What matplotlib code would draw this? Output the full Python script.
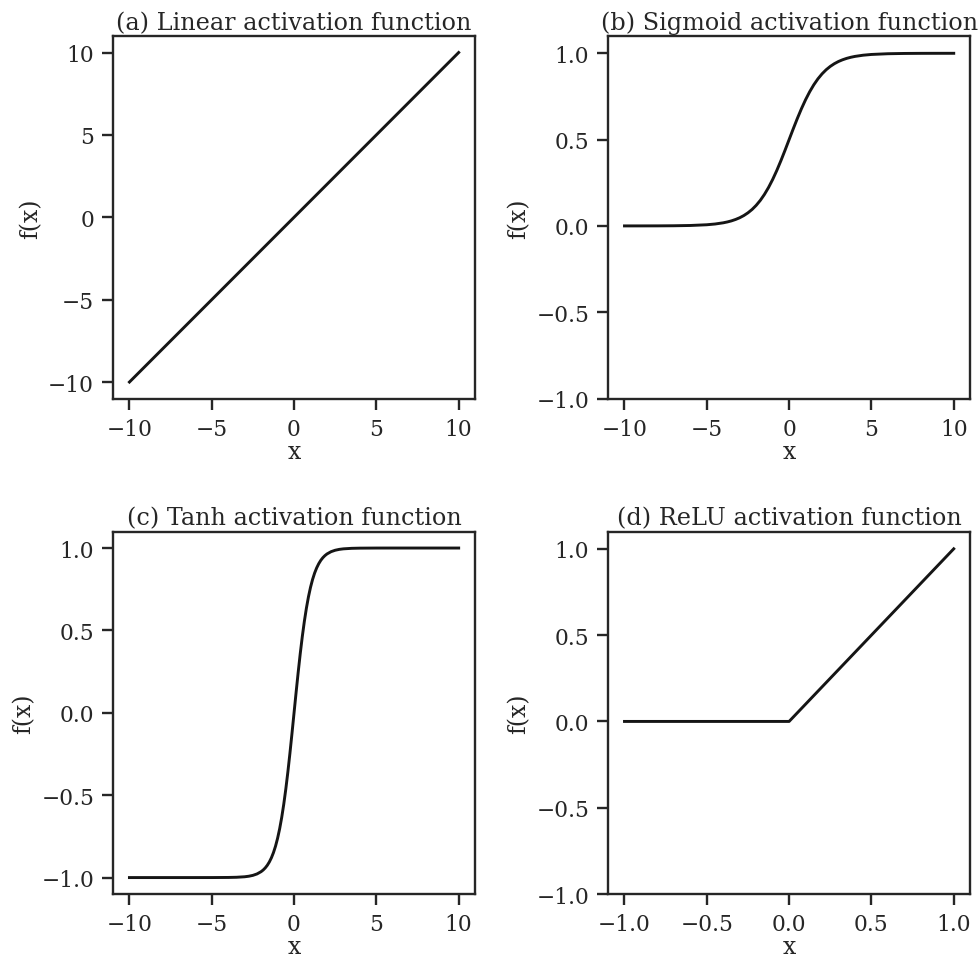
import numpy as np
from matplotlib import pyplot as plt

# values
linear_x = [-10, 10]
linear_y = [-10, 10]

sigmoid_x = [-10, -9, -8, -7, -6, -5, -4.5,
             -4, -3.75, -3.5, -3.25, -3, -2.75, -2.5, -2.25, -2, -1.75, -1.5, -1.25, -1, -0.75, -0.5, -0.25,
             0, 0.25, 0.5, 0.75, 1, 1.25, 1.5, 1.75, 2, 2.25, 2.5, 2.75, 3, 3.25, 3.5, 3.75, 4,
             4.5, 5, 6, 7, 8, 9, 10]
sigmoid_y = [0.0000, 0.0001, 0.0003, 0.0009, 0.0025, 0.0067, 0.0110,
             0.0180, 0.0230, 0.0293, 0.0374, 0.0474, 0.0601, 0.0759, 0.0953, 0.1192, 0.1480, 0.1824, 0.2227,
             0.2689, 0.3208, 0.3775, 0.4378,
             0.5000, 0.5622, 0.6225, 0.6792, 0.7311, 0.7773, 0.8176, 0.8520, 0.8808, 0.9047, 0.9241, 0.9399,
             0.9526, 0.9626, 0.9707, 0.9770, 0.9820,
             0.9890, 0.9933, 0.9975, 0.9991, 0.9997, 0.9999, 1.0000]

tanh_x = [-10, -8, -6, -5, -4, -3.5, -3, -2.75, -2.5, -2.25, -2,
          -1.875, -1.75, -1.625, -1.5, -1.375, -1.25, -1.125, -1, -0.875, -0.75, -0.625, -0.5, -0.375, -0.25, -0.125,
          0, 0.125, 0.25, 0.375, 0.5, 0.625, 0.75, 0.875, 1, 1.125, 1.25, 1.375, 1.5, 1.625, 1.75, 1.875,
          2, 2.25, 2.5, 2.75, 3, 3.5, 4, 5, 6, 8, 10]
tanh_y = [-1.0, -1.0, -1.0, -0.9999, -0.9993, -0.9982, -0.9951, -0.9919, -0.9866, -0.9780, -0.9640,
          -0.9540, -0.9414, -0.9254, -0.9051, -0.8798, -0.8483, -0.8093, -0.7616, -0.7039, -0.6351, -0.5546,
          -0.4621, -0.3584, -0.2449, -0.1244,
          0.0, 0.1244, 0.2449, 0.3584, 0.4621, 0.5546, 0.6351, 0.7039, 0.7616, 0.8093, 0.8483, 0.8798,
          0.9051, 0.9254, 0.9414, 0.9540,
          0.9640, 0.9780, 0.9866, 0.9919, 0.9951, 0.9982, 0.9993, 0.9999, 1.0, 1.0, 1.0]

relu_x = [-1, 0, 1]
relu_y = [0, 0, 1]

titles = ['(a) Linear activation function', '(b) Sigmoid activation function',
          '(c) Tanh activation function', '(d) ReLU activation function']

TEXT = '#262626'
plt.rcParams.update({
    'font.family': 'DejaVu Serif',
    'font.size': 17,
    'text.color': TEXT,
    'axes.labelcolor': TEXT,
    'axes.edgecolor': TEXT,
    'axes.linewidth': 1.7,
    'xtick.color': TEXT,
    'ytick.color': TEXT,
    'xtick.labelsize': 15.7,
    'ytick.labelsize': 15.7,
    'xtick.major.size': 8,
    'ytick.major.size': 8,
    'xtick.major.width': 1.7,
    'ytick.major.width': 1.7,
    'xtick.major.pad': 6,
    'ytick.major.pad': 5.5,
    'axes.titlesize': 17.2,
    'axes.titlepad': 5,
    'axes.labelsize': 17,
})

fig, axes = plt.subplots(2, 2, figsize=(9.79, 9.62), dpi=100)
fig.subplots_adjust(left=0.1154, right=0.991, top=0.9615, bottom=0.0696, wspace=0.367, hspace=0.367)

series = [(linear_x, linear_y), (sigmoid_x, sigmoid_y), (tanh_x, tanh_y), (relu_x, relu_y)]
for ax, (x, y), title in zip(axes.flat, series, titles):
    ax.plot(x, y, color='#151515', linewidth=2.1)
    ax.set_title(title)
    ax.set_xlabel('x', labelpad=0)
    ax.set_ylabel('f(x)', labelpad=4.5)

axes[0, 1].set_ylim(-1, 1.1)
axes[1, 1].set_ylim(-1, 1.1)
for ax in (axes[0, 1], axes[1, 0], axes[1, 1]):
    ax.set_yticks([-1.0, -0.5, 0.0, 0.5, 1.0])
axes[1, 1].set_xticks([-1.0, -0.5, 0.0, 0.5, 1.0])

fig.savefig('out.png')
